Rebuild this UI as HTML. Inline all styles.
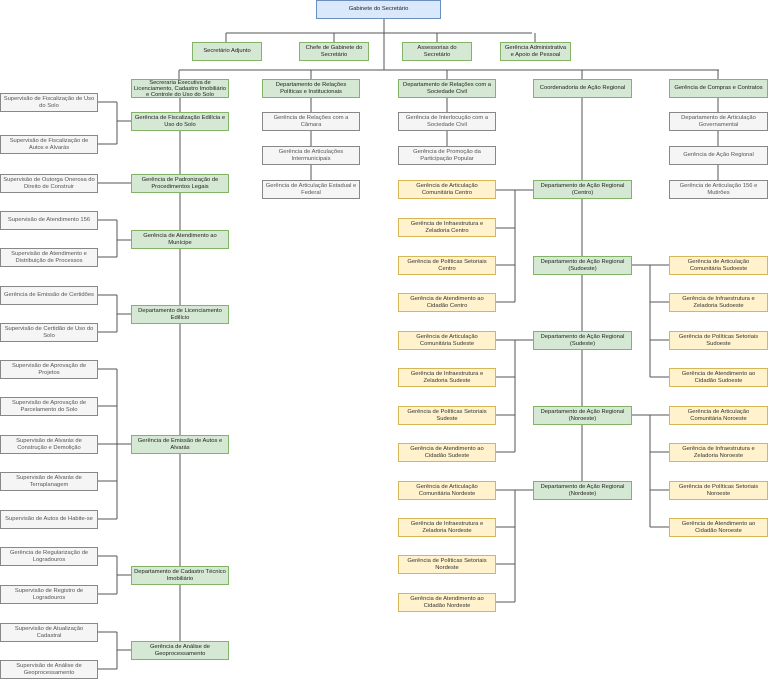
<!DOCTYPE html>
<html><head><meta charset="utf-8"><style>
body{margin:0;width:768px;height:679px;position:relative;background:#fff;font-family:"Liberation Sans",sans-serif;overflow:hidden}
.b{position:absolute;box-sizing:border-box;display:flex;align-items:center;justify-content:center;text-align:center;font-size:5.8px;line-height:6.8px;padding:0 2px;height:19px;width:98px}
.g{background:#d5e8d4;border:1px solid #82b366;color:#222}
.s{background:#f5f5f5;border:1px solid #888;color:#555}
.y{background:#fff2cc;border:1px solid #d6b656;color:#333}
.u{background:#dae8fc;border:1px solid #6c8ebf;color:#222}
svg{position:absolute;left:0;top:0}
</style></head><body>
<svg width="768" height="679" stroke="#555" stroke-width="1" fill="none">
<path d="M384 19V70M226 33H532M226 33V42M334 33V42M437 33V42M535 33V42"/>
<path d="M179 70H719M179 70V79M311 70V79M447 70V79M582 70V79M718 70V79"/>
<path d="M180 98V641M311 98V180M447 98V146M582 98V481M718 98V180"/>
<path d="M98 102H117M98 144H117M117 102V144M117 121H131"/>
<path d="M98 183H131"/>
<path d="M98 220H117M98 257H117M117 220V257M117 240H131"/>
<path d="M98 295H117M98 332H117M117 295V332M117 314H131"/>
<path d="M98 369H117M98 406H117M98 444H117M98 481H117M98 519H117M117 369V519M117 444H131"/>
<path d="M98 556H117M98 594H117M117 556V594M117 575H131"/>
<path d="M98 632H117M98 669H117M117 632V669M117 650H131"/>
<path d="M496 190H533M496 228H515M496 265H515M496 302H515M515 190V302"/>
<path d="M496 340H533M496 377H515M496 415H515M496 452H515M515 340V452"/>
<path d="M496 490H533M496 527H515M496 564H515M496 602H515M515 490V602"/>
<path d="M632 265H669M650 302H669M650 340H669M650 377H669M650 265V377"/>
<path d="M632 415H669M650 452H669M650 490H669M650 527H669M650 415V527"/>
</svg>
<div class="b u" style="left:316px;top:0;width:125px">Gabinete do Secretário</div>
<div class="b g" style="left:192px;top:42px;width:70px">Secretário Adjunto</div>
<div class="b g" style="left:299px;top:42px;width:70px">Chefe de Gabinete do Secretário</div>
<div class="b g" style="left:402px;top:42px;width:70px">Assessorias do Secretário</div>
<div class="b g" style="left:500px;top:42px;width:71px">Gerência Administrativa e Apoio de Pessoal</div>

<div class="b g" style="left:131px;top:79px;line-height:6px;padding:0">Secreraria Executiva de Licenciamento, Cadastro Imobiliário e Controle do Uso do Solo</div>
<div class="b g" style="left:262px;top:79px">Departamento de Relações Políticas e Institucionais</div>
<div class="b g" style="left:398px;top:79px">Departamento de Relações com a Sociedade Civil</div>
<div class="b g" style="left:533px;top:79px;width:99px">Coordenadoria de Ação Regional</div>
<div class="b g" style="left:669px;top:79px;width:99px">Gerência de Compras e Contratos</div>

<div class="b g" style="left:131px;top:112px">Gerência de Fiscalização Edilícia e Uso do Solo</div>
<div class="b g" style="left:131px;top:174px">Gerência de Padronização de Procedimentos Legais</div>
<div class="b g" style="left:131px;top:230px">Gerência de Atendimento ao Munícipe</div>
<div class="b g" style="left:131px;top:305px">Departamento de Licenciamento Edilício</div>
<div class="b g" style="left:131px;top:435px">Gerência de Emissão de Autos e Alvarás</div>
<div class="b g" style="left:131px;top:566px">Departamento de Cadastro Técnico Imobiliário</div>
<div class="b g" style="left:131px;top:641px">Gerência de Análise de Geoprocessamento</div>

<div class="b s" style="left:0;top:93px">Supervisão de Fiscalização de Uso do Solo</div>
<div class="b s" style="left:0;top:135px">Supervisão de Fiscalização de Autos e Alvarás</div>
<div class="b s" style="left:0;top:174px">Supervisão de Outorga Onerosa do Direito de Construir</div>
<div class="b s" style="left:0;top:211px">Supervisão de Atendimento 156</div>
<div class="b s" style="left:0;top:248px">Supervisão de Atendimento e Distribuição de Processos</div>
<div class="b s" style="left:0;top:286px">Gerência de Emissão de Certidões</div>
<div class="b s" style="left:0;top:323px">Supervisão de Certidão de Uso do Solo</div>
<div class="b s" style="left:0;top:360px">Supervisão de Aprovação de Projetos</div>
<div class="b s" style="left:0;top:397px">Supervisão de Aprovação de Parcelamento do Solo</div>
<div class="b s" style="left:0;top:435px">Supervisão de Alvarás de Construção e Demolição</div>
<div class="b s" style="left:0;top:472px">Supervisão de Alvarás de Terraplanagem</div>
<div class="b s" style="left:0;top:510px">Supervisão de Autos de Habite-se</div>
<div class="b s" style="left:0;top:547px">Gerência de Regularização de Logradouros</div>
<div class="b s" style="left:0;top:585px">Supervisão de Registro de Logradouros</div>
<div class="b s" style="left:0;top:623px">Supervisão de Atualização Cadastral</div>
<div class="b s" style="left:0;top:660px">Supervisão de Análise de Geoprocessamento</div>

<div class="b s" style="left:262px;top:112px">Gerência de Relações com a Câmara</div>
<div class="b s" style="left:262px;top:146px">Gerência de Articulações Intermunicipais</div>
<div class="b s" style="left:262px;top:180px">Gerência de Articulação Estadual e Federal</div>

<div class="b s" style="left:398px;top:112px">Gerência de Interlocução com a Sociedade Civil</div>
<div class="b s" style="left:398px;top:146px">Gerência de Promoção da Participação Popular</div>

<div class="b s" style="left:669px;top:112px;width:99px">Departamento de Articulação Governamental</div>
<div class="b s" style="left:669px;top:146px;width:99px">Gerência de Ação Regional</div>
<div class="b s" style="left:669px;top:180px;width:99px">Gerência de Articulação 156 e Mutirões</div>

<div class="b g" style="left:533px;top:180px;width:99px">Departamento de Ação Regional (Centro)</div>
<div class="b g" style="left:533px;top:256px;width:99px">Departamento de Ação Regional (Sudoeste)</div>
<div class="b g" style="left:533px;top:331px;width:99px">Departamento de Ação Regional (Sudeste)</div>
<div class="b g" style="left:533px;top:406px;width:99px">Departamento de Ação Regional (Noroeste)</div>
<div class="b g" style="left:533px;top:481px;width:99px">Departamento de Ação Regional (Nordeste)</div>

<div class="b y" style="left:398px;top:180px">Gerência de Articulação Comunitária Centro</div>
<div class="b y" style="left:398px;top:218px">Gerência de Infraestrutura e Zeladoria Centro</div>
<div class="b y" style="left:398px;top:256px">Gerência de Políticas Setoriais Centro</div>
<div class="b y" style="left:398px;top:293px">Gerência de Atendimento ao Cidadão Centro</div>
<div class="b y" style="left:398px;top:331px">Gerência de Articulação Comunitária Sudeste</div>
<div class="b y" style="left:398px;top:368px">Gerência de Infraestrutura e Zeladoria Sudeste</div>
<div class="b y" style="left:398px;top:406px">Gerência de Políticas Setoriais Sudeste</div>
<div class="b y" style="left:398px;top:443px">Gerência de Atendimento ao Cidadão Sudeste</div>
<div class="b y" style="left:398px;top:481px">Gerência de Articulação Comunitária Nordeste</div>
<div class="b y" style="left:398px;top:518px">Gerência de Infraestrutura e Zeladoria Nordeste</div>
<div class="b y" style="left:398px;top:555px">Gerência de Políticas Setoriais Nordeste</div>
<div class="b y" style="left:398px;top:593px">Gerência de Atendimento ao Cidadão Nordeste</div>

<div class="b y" style="left:669px;top:256px;width:99px">Gerência de Articulação Comunitária Sudoeste</div>
<div class="b y" style="left:669px;top:293px;width:99px">Gerência de Infraestrutura e Zeladoria Sudoeste</div>
<div class="b y" style="left:669px;top:331px;width:99px">Gerência de Políticas Setoriais Sudoeste</div>
<div class="b y" style="left:669px;top:368px;width:99px">Gerência de Atendimento ao Cidadão Sudoeste</div>
<div class="b y" style="left:669px;top:406px;width:99px">Gerência de Articulação Comunitária Noroeste</div>
<div class="b y" style="left:669px;top:443px;width:99px">Gerência de Infraestrutura e Zeladoria Noroeste</div>
<div class="b y" style="left:669px;top:481px;width:99px">Gerência de Políticas Setoriais Noroeste</div>
<div class="b y" style="left:669px;top:518px;width:99px">Gerência de Atendimento ao Cidadão Noroeste</div>
</body></html>
